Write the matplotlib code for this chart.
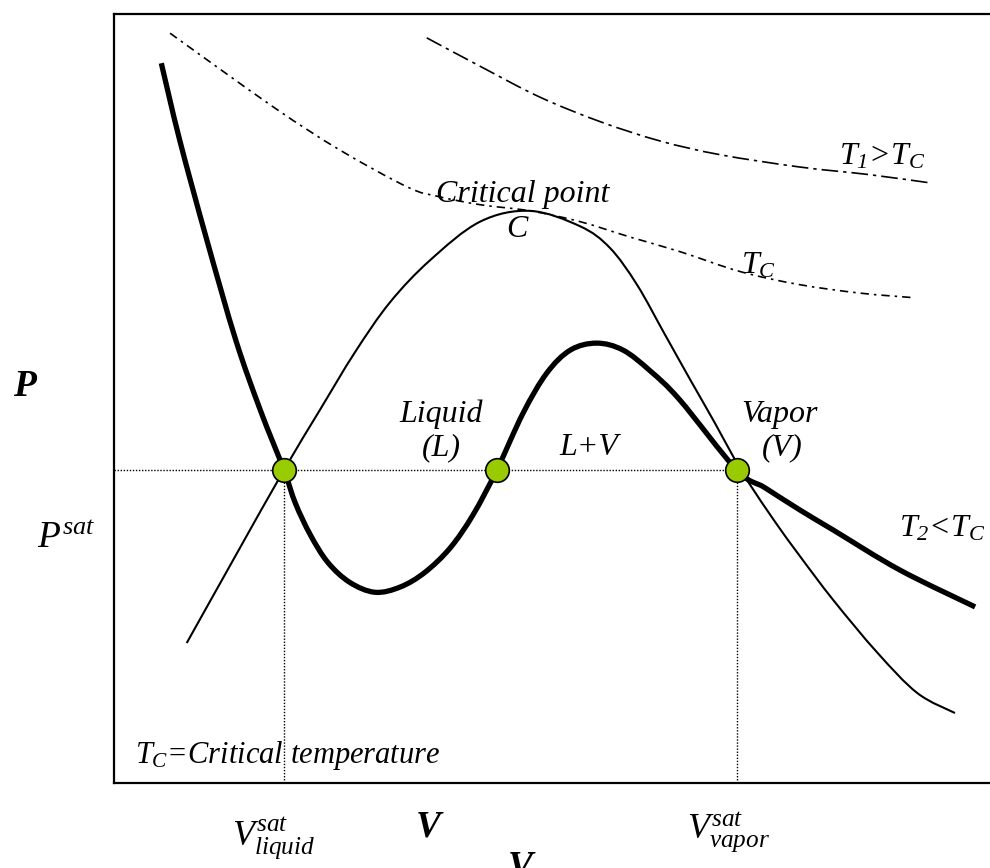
import matplotlib
matplotlib.use('Agg')
import matplotlib.pyplot as plt
from matplotlib.path import Path
from matplotlib.patches import PathPatch

# Fonts: Times-like serif, italic everywhere
plt.rcParams['font.family'] = 'Liberation Serif'
plt.rcParams['font.style'] = 'italic'
plt.rcParams['mathtext.fontset'] = 'custom'
plt.rcParams['mathtext.rm'] = 'Liberation Serif'
plt.rcParams['mathtext.it'] = 'Liberation Serif:italic'
plt.rcParams['mathtext.bf'] = 'Liberation Serif:bold:italic'

# Isotherm T2 < Tc (thick van der Waals loop), arbitrary units
t2_v = [5.4, 7.5, 10.6, 13.9, 16.7, 19.4, 20.7, 22.4, 24.4, 26.9, 29.8, 32.7,
        35.5, 38.4, 41.0, 43.7, 46.7, 49.4, 52.1, 55.1, 58.1, 61.2, 64.6,
        71.1, 74.3, 78.3, 82.1, 89.7, 98.3]
t2_p = [93.6, 83.6, 70.6, 57.6, 48.5, 40.7, 36.4, 32.3, 28.7, 26.1, 24.8, 25.5,
        27.4, 30.6, 34.9, 40.7, 48.1, 53.3, 56.3, 57.2, 56.3, 53.6, 49.8,
        40.7, 38.4, 35.5, 32.9, 27.7, 22.9]

# Saturation dome
dome_v = [8.3, 13.8, 19.4, 23.5, 27.5, 31.5, 36.1, 41.8, 47.5, 53.2, 56.6,
          59.7, 62.9, 65.8, 68.6, 71.1, 72.6, 75.5, 78.3, 82.1, 87.1, 91.7, 96.0]
dome_p = [18.2, 29.4, 40.7, 48.5, 56.0, 62.5, 68.0, 73.0, 74.4, 72.4, 69.6,
          64.8, 58.3, 52.4, 46.8, 41.6, 38.8, 33.9, 29.5, 23.8, 17.0, 11.7, 9.1]

# Critical isotherm Tc
tc_v = [6.4, 18.2, 25.8, 33.5, 36.9, 41.8, 47.5, 53.2, 58.9, 64.6, 71.5, 78.3, 85.2, 91.4]
tc_p = [97.5, 87.9, 82.3, 77.5, 76.3, 75.2, 74.4, 73.0, 71.0, 69.1, 66.5, 64.8, 63.7, 63.1]

# Isotherm T1 > Tc
t1_v = [35.7, 41.8, 48.6, 55.5, 62.3, 69.2, 78.3, 86.3, 93.4]
t1_p = [96.9, 93.2, 89.2, 86.0, 83.5, 81.7, 80.1, 79.1, 78.0]

# Saturation values
p_sat = 40.7
v_liq = 19.4
v_mid = 43.7
v_vap = 71.1


# Smooth curve through the read points (Catmull-Rom drawn as Bezier segments)
def smooth_curve(ax, xs, ys, **kw):
    pts = list(zip(xs, ys))
    n = len(pts)
    verts = [pts[0]]
    codes = [Path.MOVETO]
    for i in range(n - 1):
        p0 = pts[max(i - 1, 0)]
        p1 = pts[i]
        p2 = pts[i + 1]
        p3 = pts[min(i + 2, n - 1)]
        c1 = (p1[0] + (p2[0] - p0[0]) / 6, p1[1] + (p2[1] - p0[1]) / 6)
        c2 = (p2[0] - (p3[0] - p1[0]) / 6, p2[1] - (p3[1] - p1[1]) / 6)
        verts += [c1, c2, p2]
        codes += [Path.CURVE4] * 3
    patch = PathPatch(Path(verts, codes), fill=False, **kw)
    ax.add_patch(patch)
    return patch


fig = plt.figure(figsize=(9.9, 8.68), dpi=100)
ax = fig.add_axes([114 / 990, 85 / 868, 876 / 990, 769 / 868])
ax.set_xlim(0, 100)
ax.set_ylim(0, 100)
ax.set_xticks([])
ax.set_yticks([])
ax.spines['right'].set_visible(False)
for s in ['left', 'top', 'bottom']:
    ax.spines[s].set_linewidth(1.6)

# Guide lines at saturation
ax.plot([0, v_vap], [p_sat, p_sat], color='black', lw=1.0, dashes=(1, 1.2))
ax.plot([v_liq, v_liq], [0, p_sat], color='black', lw=1.0, dashes=(1, 1.2))
ax.plot([v_vap, v_vap], [0, p_sat], color='black', lw=1.0, dashes=(1, 1.2))

# Curves
smooth_curve(ax, t1_v, t1_p, edgecolor='black', lw=1.2, linestyle=(0, (10, 3, 2, 3)))
smooth_curve(ax, tc_v, tc_p, edgecolor='black', lw=1.2, linestyle=(0, (5, 3, 1.5, 3)))
smooth_curve(ax, dome_v, dome_p, edgecolor='black', lw=1.5)
smooth_curve(ax, t2_v, t2_p, edgecolor='black', lw=3.8, capstyle='butt')

# Saturation points
ax.plot([v_liq, v_mid, v_vap], [p_sat, p_sat, p_sat], 'o', color='#99CC00',
        markersize=17, markeredgecolor='black', markeredgewidth=1.2, zorder=5)

# Labels inside the plot
fs = 23
ax.text(46.6, 75.5, 'Critical point', fontsize=fs, ha='center', va='baseline')
ax.text(46.0, 71.0, 'C', fontsize=fs, ha='center', va='baseline')
ax.text(37.4, 46.9, 'Liquid', fontsize=fs, ha='center', va='baseline')
ax.text(37.4, 42.6, '(L)', fontsize=fs, ha='center', va='baseline')
ax.text(54.2, 42.6, 'L+V', fontsize=fs, ha='center', va='baseline')
ax.text(76.0, 46.9, 'Vapor', fontsize=fs, ha='center', va='baseline')
ax.text(76.3, 42.6, '(V)', fontsize=fs, ha='center', va='baseline')
ax.text(82.8, 80.4, r'$T_1$>$T_C$', fontsize=fs, ha='left', va='baseline')
ax.text(71.6, 66.2, r'$T_C$', fontsize=fs, ha='left', va='baseline')
ax.text(89.6, 32.0, r'$T_2$<$T_C$', fontsize=fs, ha='left', va='baseline')
ax.text(2.4, 2.6, r'$T_C$=Critical temperature', fontsize=22, ha='left', va='baseline')

# Axis labels outside the box
ax.text(-11.5, 50.3, 'P', fontsize=27, fontweight='bold', ha='left', va='baseline')
ax.text(-8.8, 30.7, r'$P^{sat}$', fontsize=27, ha='left', va='baseline')
ax.text(34.4, -7.0, 'V', fontsize=27, fontweight='bold', ha='left', va='baseline')
ax.text(44.9, -12.2, 'V', fontsize=27, fontweight='bold', ha='left', va='baseline')
ax.text(13.5, -8.1, r'$V_{liquid}^{sat}$', fontsize=26, ha='left', va='baseline')
ax.text(65.4, -7.2, r'$V_{vapor}^{sat}$', fontsize=26, ha='left', va='baseline')

fig.savefig('out.png', dpi=100)
